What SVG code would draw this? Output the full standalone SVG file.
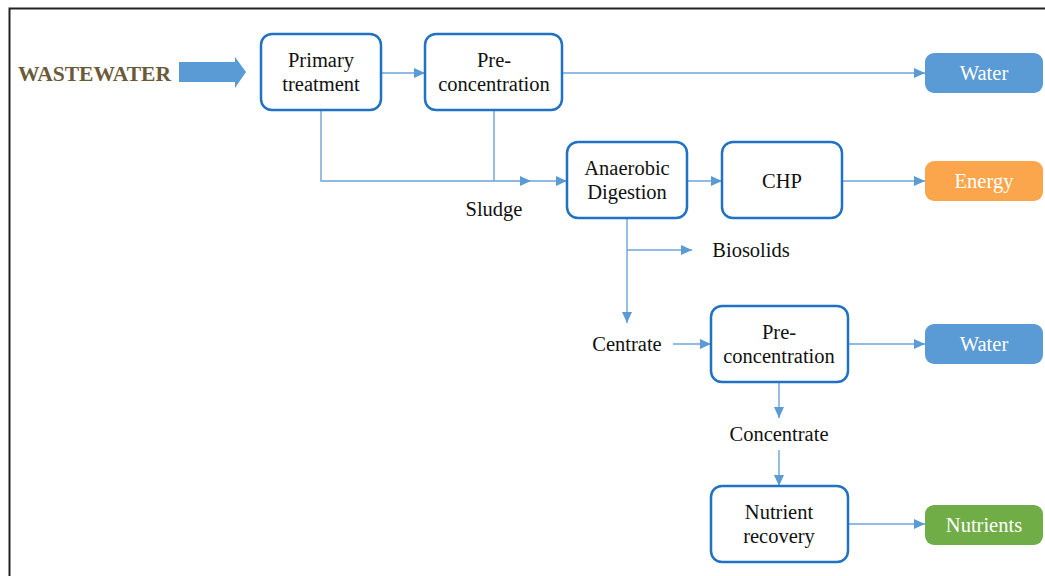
<svg xmlns="http://www.w3.org/2000/svg" width="1045" height="576" viewBox="0 0 1045 576">
  <defs>
    <marker id="arr" markerWidth="12" markerHeight="10" refX="11" refY="5" orient="auto" markerUnits="userSpaceOnUse">
      <path d="M0,0 L11,5 L0,10 Z" fill="#5b9bd5"/>
    </marker>
    <style>
      text { font-family: "Liberation Serif", "Times New Roman", serif; font-size: 20.5px; fill: #111; text-anchor: middle; }
      .box { fill: #fff; stroke: #1f72c4; stroke-width: 2.5; }
      .out { stroke: none; }
      .out-text { fill: #fff; }
      .conn { fill: none; stroke: #6ea3d8; stroke-width: 1.4; }
      .conn-a { fill: none; stroke: #6ea3d8; stroke-width: 1.4; marker-end: url(#arr); }
    </style>
  </defs>

  <rect width="1045" height="576" fill="#fff"/>
  <!-- frame -->
  <path d="M9.5,576 V8.5 H1045" fill="none" stroke="#222" stroke-width="2"/>

  <!-- input -->
  <g id="wastewater">
    <text x="94.5" y="81" style="font-weight:bold; fill:#6b5a38; font-size:21px" textLength="153" lengthAdjust="spacingAndGlyphs">WASTEWATER</text>
    <path d="M179,62 H235 V57 L246,72 L235,88 V82 H179 Z" fill="#5b9bd5"/>
  </g>

  <!-- connectors -->
  <g id="connectors">
    <path class="conn-a" d="M381,73 H425"/>
    <path class="conn-a" d="M562,73 H925"/>
    <path class="conn-a" d="M321,110 V181 H531"/>
    <path class="conn" d="M494,110 V181"/>
    <path class="conn-a" d="M531,181 H567"/>
    <path class="conn-a" d="M687,181 H722"/>
    <path class="conn-a" d="M842,181 H925"/>
    <path class="conn-a" d="M627,218 V323"/>
    <path class="conn-a" d="M627,250 H692"/>
    <path class="conn-a" d="M673,344 H711"/>
    <path class="conn-a" d="M848,344 H925"/>
    <path class="conn-a" d="M779,382 V418"/>
    <path class="conn-a" d="M779,450 V486"/>
    <path class="conn-a" d="M848,524 H925"/>
  </g>

  <!-- edge labels -->
  <g id="labels">
    <text x="494" y="216">Sludge</text>
    <text x="751" y="257">Biosolids</text>
    <text x="627" y="351">Centrate</text>
    <text x="779" y="441">Concentrate</text>
  </g>

  <g id="primary-treatment">
    <rect class="box" x="261" y="34" width="120" height="76" rx="11"/>
    <text x="321" y="67">Primary</text>
    <text x="321" y="91">treatment</text>
  </g>

  <g id="pre-concentration-1">
    <rect class="box" x="425" y="34" width="137" height="76" rx="11"/>
    <text x="494" y="67">Pre-</text>
    <text x="494" y="91">concentration</text>
  </g>

  <g id="anaerobic-digestion">
    <rect class="box" x="567" y="142" width="120" height="76" rx="11"/>
    <text x="627" y="175">Anaerobic</text>
    <text x="627" y="199">Digestion</text>
  </g>

  <g id="chp">
    <rect class="box" x="722" y="142" width="120" height="76" rx="11"/>
    <text x="782" y="188">CHP</text>
  </g>

  <g id="pre-concentration-2">
    <rect class="box" x="711" y="306" width="137" height="76" rx="11"/>
    <text x="779" y="339">Pre-</text>
    <text x="779" y="363">concentration</text>
  </g>

  <g id="nutrient-recovery">
    <rect class="box" x="711" y="486" width="137" height="76" rx="11"/>
    <text x="779" y="519">Nutrient</text>
    <text x="779" y="543">recovery</text>
  </g>

  <g id="water-1">
    <rect class="out" x="925" y="53" width="118" height="40" rx="9" fill="#5b9bd5"/>
    <text class="out-text" x="984" y="80">Water</text>
  </g>

  <g id="energy">
    <rect class="out" x="925" y="161" width="118" height="40" rx="9" fill="#fba64c"/>
    <text class="out-text" x="984" y="188">Energy</text>
  </g>

  <g id="water-2">
    <rect class="out" x="925" y="324" width="118" height="40" rx="9" fill="#5b9bd5"/>
    <text class="out-text" x="984" y="351">Water</text>
  </g>

  <g id="nutrients">
    <rect class="out" x="925" y="505" width="118" height="40" rx="9" fill="#70ad47"/>
    <text class="out-text" x="984" y="532">Nutrients</text>
  </g>
</svg>
